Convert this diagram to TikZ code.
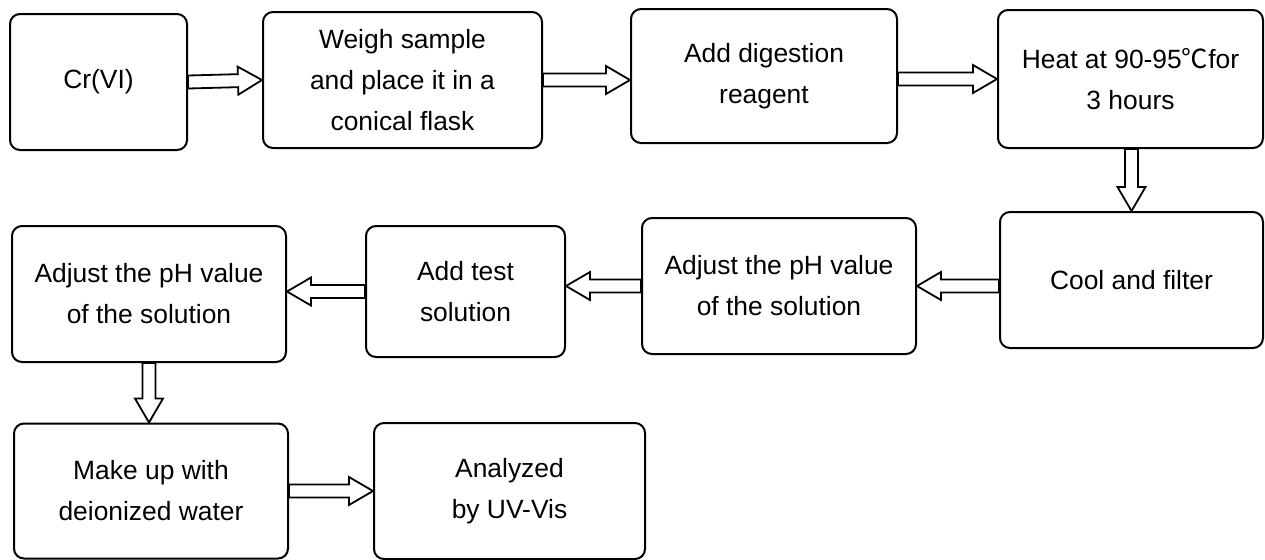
\documentclass[tikz,border=0pt]{standalone}
\usepackage{fontspec}
\setmainfont{Liberation Sans}
\newfontfamily\cjk{Noto Sans CJK SC}
\usetikzlibrary{calc}

\begin{document}
\begin{tikzpicture}[x=0.5pt,y=-0.5pt]
  \tikzstyle{stage}=[draw,line width=1pt,rounded corners=5pt,align=center,inner sep=0pt,
    font=\fontsize{13.2}{20.5}\selectfont]
  \tikzstyle{hollow}=[draw,line width=0.9pt,fill=white,to path={
    ($(\tikztostart)!3.25pt!90:(\tikztotarget)$)
    -- ($(\tikztotarget)!12pt!(\tikztostart)!3.25pt!-90:(\tikztostart)$)
    -- ($(\tikztotarget)!12pt!(\tikztostart)!7pt!-90:(\tikztostart)$)
    -- (\tikztotarget)
    -- ($(\tikztotarget)!12pt!(\tikztostart)!7pt!90:(\tikztostart)$)
    -- ($(\tikztotarget)!12pt!(\tikztostart)!3.25pt!90:(\tikztostart)$)
    -- ($(\tikztostart)!3.25pt!-90:(\tikztotarget)$) -- cycle}]

  \useasboundingbox (0,0) rectangle (1265,559);

  % first row
  \node [stage,minimum width=88.5pt,minimum height=68pt] (cr) at (98.5,82) {Cr(VI)};
  \node [stage,minimum width=139.5pt,minimum height=68pt] (weigh) at (402.5,80)
    {Weigh sample\\and place it in a\\conical flask};
  \node [stage,minimum width=133pt,minimum height=67pt] (digest) at (764,76)
    {Add digestion\\reagent};
  \node [stage,minimum width=132.5pt,minimum height=69pt] (heat) at (1130.5,79)
    {Heat at 90-95{\cjk ℃}for\\3 hours};

  % second row
  \node [stage,minimum width=131.5pt,minimum height=68pt] (cool) at (1131.5,280)
    {Cool and filter};
  \node [stage,minimum width=137pt,minimum height=68pt] (adjA) at (779,286)
    {Adjust the pH value\\of the solution};
  \node [stage,minimum width=99.5pt,minimum height=65.5pt] (test) at (465.5,291.5)
    {Add test\\solution};
  \node [stage,minimum width=137pt,minimum height=68pt] (adjB) at (149,294)
    {Adjust the pH value\\of the solution};

  % third row
  \node [stage,minimum width=137pt,minimum height=67.5pt] (makeup) at (151,491)
    {Make up with\\deionized water};
  \node [stage,minimum width=135.5pt,minimum height=68pt] (uv) at (509.5,491)
    {Analyzed\\by UV-Vis};

  \path (cr.east) edge[hollow] (weigh.west)
        (weigh.east) edge[hollow] (digest.west |- weigh.east)
        (digest.east |- heat.west) edge[hollow] (heat.west)
        (heat.south -| cool.north) edge[hollow] (cool.north)
        (cool.west |- adjA.east) edge[hollow] (adjA.east)
        (adjA.west) edge[hollow] (test.east |- adjA.west)
        (test.west) edge[hollow] (adjB.east |- test.west)
        (adjB.south) edge[hollow] (makeup.north -| adjB.south)
        (makeup.east) edge[hollow] (uv.west |- makeup.east);
\end{tikzpicture}
\end{document}
